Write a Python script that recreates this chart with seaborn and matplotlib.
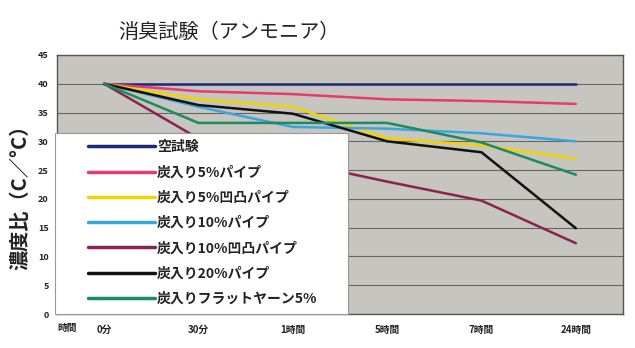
import matplotlib
matplotlib.use("Agg")
import matplotlib.pyplot as plt
from matplotlib.patches import Rectangle
import seaborn as sns
import pandas as pd

times = ["0分", "30分", "1時間", "5時間", "7時間", "24時間"]
series_names = ["空試験", "炭入り5%パイプ", "炭入り5%凹凸パイプ", "炭入り10%パイプ",
                "炭入り10%凹凸パイプ", "炭入り20%パイプ", "炭入りフラットヤーン5%"]
blank = [40, 40, 40, 40, 40, 40]
pipe5 = [40, 38.7, 38.2, 37.3, 37.0, 36.5]
bumpy5 = [40, 37.3, 36.0, 30.5, 29.3, 27.0]
pipe10 = [40, 36.0, 32.5, 32.2, 31.4, 30.0]
bumpy10 = [40, 30.5, 26.5, 23.0, 19.7, 12.3]
pipe20 = [40, 36.3, 34.8, 30.0, 28.1, 14.9]
flat5 = [40, 33.2, 33.2, 33.2, 29.8, 24.2]
colors = ["#1c2878", "#e83a6e", "#f2d400", "#3aa6df", "#8a2350", "#111111", "#1e8a62"]

all_vals = [blank, pipe5, bumpy5, pipe10, bumpy10, pipe20, flat5]
rows = []
for name, vals in zip(series_names, all_vals):
    for t, v in zip(times, vals):
        rows.append({"time": t, "value": v, "series": name})
df = pd.DataFrame(rows)

sns.set_theme(style="white")
plt.rcParams['font.family'] = ['Noto Sans CJK JP', 'DejaVu Sans']

fig = plt.figure(figsize=(6.35, 3.48), dpi=100)
ax = fig.add_axes([57/635, 1-314/348, 566/635, 259/348])
ax.set_facecolor("#c6c5c0")

sns.lineplot(data=df, x="time", y="value", hue="series", hue_order=series_names,
             palette=colors, linewidth=1.8, sort=False, ax=ax, legend=True)

ax.set_xlim(-0.5, 5.5)
ax.set_ylim(0, 45)
ax.set_yticks(range(0, 50, 5))
ax.yaxis.grid(True, color="#666666", linewidth=0.8)
ax.set_axisbelow(True)
for s in ax.spines.values():
    s.set_color("#555555")
    s.set_linewidth(1.0)
ax.tick_params(axis="both", length=0, colors="#222222")
ax.tick_params(axis="y", pad=6, labelsize=6.5)
ax.tick_params(axis="x", pad=8, labelsize=7)
for lbl in ax.get_xticklabels() + ax.get_yticklabels():
    lbl.set_fontweight("bold")
ax.set_xlabel("")
ax.set_ylabel("")
fig.text(20/635, 1-192/348, "濃度比（C／°C）", fontsize=14.5, fontweight="bold",
         rotation=90, ha="center", va="center", color="#222222")
ax.text(10/566, -14/259, "時間", transform=ax.transAxes, fontsize=7, fontweight="bold",
        ha="center", va="center", color="#222222")
fig.text(118/635, 1-32/348, "消臭試験（アンモニア）", fontsize=14.5, ha="left", va="center",
         color="#222222")

# legend box
box = Rectangle((-2/566, 0.0), 293/566, 181/259, transform=ax.transAxes,
                facecolor="white", edgecolor="#999999", linewidth=0.8,
                zorder=4.5, clip_on=False)
ax.add_patch(box)
leg = ax.legend(loc="upper left", bbox_to_anchor=(31/566, 0.671), frameon=False,
                prop={"size": 10, "weight": "bold"},
                handlelength=4.8, handletextpad=0.15, labelspacing=0.81,
                borderpad=0, borderaxespad=0)
leg.set_zorder(6)
for line in leg.get_lines():
    line.set_linewidth(2.5)
for t in leg.get_texts():
    t.set_color("#222222")

fig.savefig("out.png", dpi=100, facecolor="white")
